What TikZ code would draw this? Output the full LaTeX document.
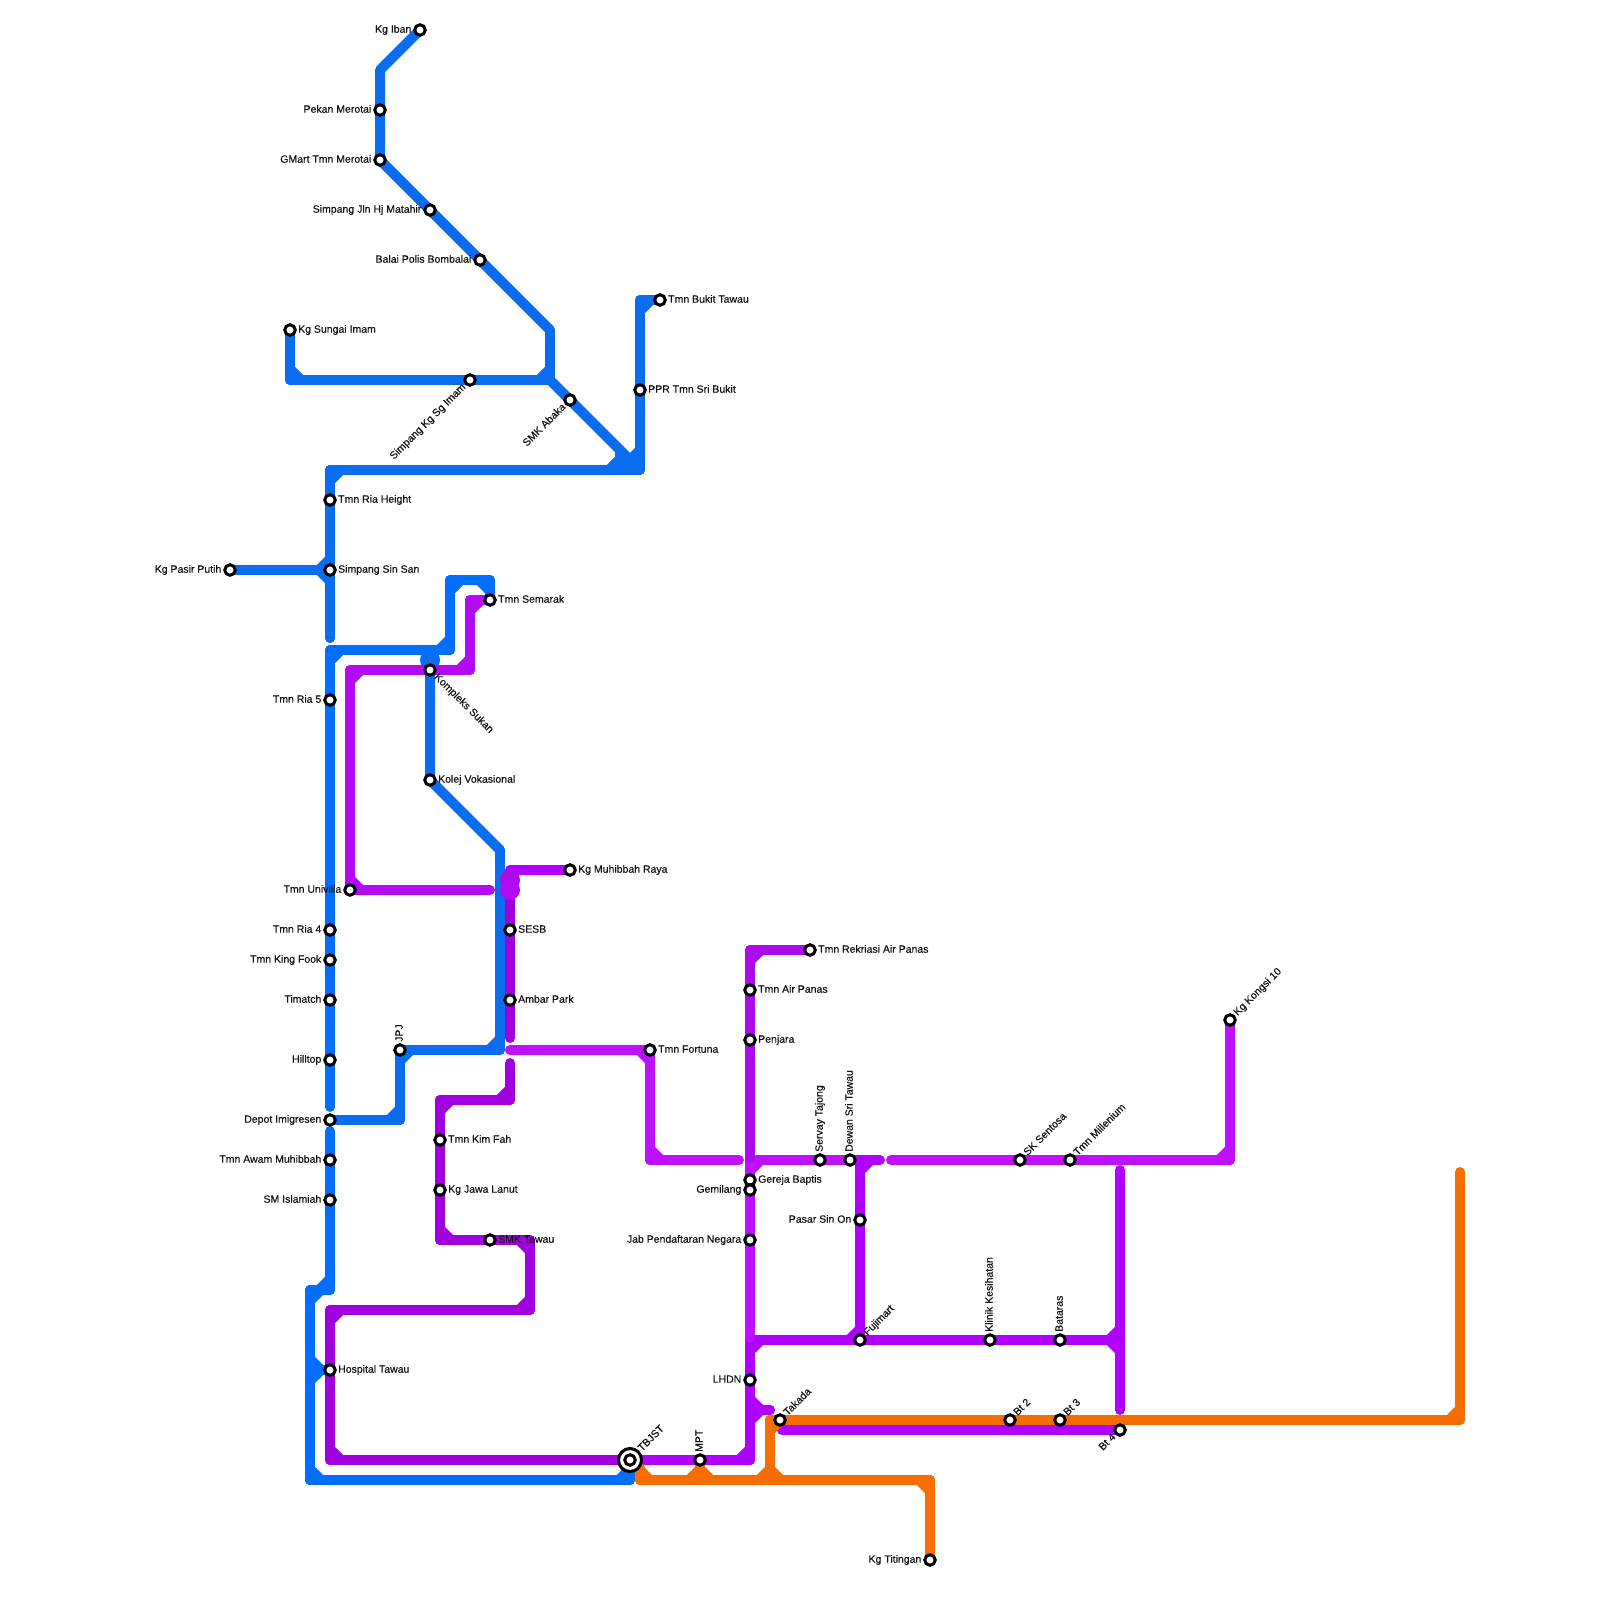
\documentclass[tikz,border=0pt]{standalone}
\usepackage{fontspec}
\setmainfont[FakeBold=0.4]{Liberation Sans}
\usetikzlibrary{calc, backgrounds}
\definecolor{bluebright}{HTML}{006FFF}
\definecolor{bluedeep}{HTML}{0A6CEE}
\definecolor{violetdark}{HTML}{A000DD}
\definecolor{violetmid}{HTML}{AD0AEB}
\definecolor{violetline}{HTML}{B000FF}
\definecolor{violetloop}{HTML}{B20AF5}
\definecolor{violetpale}{HTML}{BE10FF}
\definecolor{roadorange}{HTML}{F76E00}
\definecolor{labelink}{HTML}{111111}
\tikzset{
  route/.style={line width=10pt, line cap=round, line join=round},
  stopring/.style={circle, draw=black, line width=3pt, fill=white, inner sep=0pt, minimum size=10.5pt},
  hubring/.style={circle, draw=black, line width=3pt, fill=white, inner sep=0pt, minimum size=23pt},
  blob/.style={circle, inner sep=0pt, outer sep=0pt, minimum size=20pt},
  lbl/.style={text=labelink, inner sep=0pt, font=\fontsize{10.5}{12}\selectfont},
  toright/.style={lbl, anchor=base west, xshift=8pt, yshift=-2.7pt},
  toleft/.style={lbl, anchor=base east, xshift=-8.5pt, yshift=-2.7pt},
  tonorth/.style={lbl, anchor=base west, rotate=90, xshift=8pt, yshift=-2.7pt},
  tone/.style={lbl, anchor=base west, rotate=45, xshift=8pt, yshift=-2.7pt},
  tose/.style={lbl, anchor=base west, rotate=-45, xshift=8pt, yshift=-2.7pt},
  tosw/.style={lbl, anchor=base east, rotate=45, xshift=-8pt, yshift=-2.7pt},
}
\def\nopt{none}
\newcommand{\stopnode}[5]{%
  \node[stopring] (#1) at (#2,#3) {};
  \node[#4] (#1-name) at (#1.center) {#5};}
\newcommand{\metroline}[2]{%
  \foreach \pt [remember=\prev as \pprev (initially none), remember=\pt as \prev (initially none)] in {#2} {%
    \ifx\prev\nopt\else
      \draw[route, #1] (\prev.center) -- (\pt.center);
      \ifx\pprev\nopt\else
        \draw[route, #1, line cap=butt] ($(\prev)!11pt!(\pprev)$) -- ($(\prev)!11pt!(\pt)$);
      \fi
    \fi}}

\begin{document}
\begin{tikzpicture}[x=1pt, y=-1pt]
  \useasboundingbox (0,0) rectangle (1600,1600);

  \stopnode{kgiban}{420}{30}{toleft}{Kg Iban}
  \stopnode{pekan}{380}{110}{toleft}{Pekan Merotai}
  \stopnode{gmart}{380}{160}{toleft}{GMart Tmn Merotai}
  \stopnode{matahir}{430}{210}{toleft}{Simpang Jln Hj Matahir}
  \stopnode{balai}{480}{260}{toleft}{Balai Polis Bombalai}
  \stopnode{sungai}{290}{330}{toright}{Kg Sungai Imam}
  \stopnode{sgimam}{470}{380}{tosw}{Simpang Kg Sg Imam}
  \stopnode{abaka}{570}{400}{tosw}{SMK Abaka}
  \stopnode{bukit}{660}{300}{toright}{Tmn Bukit Tawau}
  \stopnode{ppr}{640}{390}{toright}{PPR Tmn Sri Bukit}
  \stopnode{height}{330}{500}{toright}{Tmn Ria Height}
  \stopnode{pasir}{230}{570}{toleft}{Kg Pasir Putih}
  \stopnode{sinsan}{330}{570}{toright}{Simpang Sin San}
  \stopnode{semarak}{490}{600}{toright}{Tmn Semarak}
  \stopnode{kompleks}{430}{670}{tose}{Kompleks Sukan}
  \stopnode{riafive}{330}{700}{toleft}{Tmn Ria 5}
  \stopnode{kolej}{430}{780}{toright}{Kolej Vokasional}
  \stopnode{muhibbah}{570}{870}{toright}{Kg Muhibbah Raya}
  \stopnode{univilla}{350}{890}{toleft}{Tmn Univilla}
  \stopnode{riafour}{330}{930}{toleft}{Tmn Ria 4}
  \stopnode{sesb}{510}{930}{toright}{SESB}
  \stopnode{kingfook}{330}{960}{toleft}{Tmn King Fook}
  \stopnode{timatch}{330}{1000}{toleft}{Timatch}
  \stopnode{ambar}{510}{1000}{toright}{Ambar Park}
  \stopnode{hilltop}{330}{1060}{toleft}{Hilltop}
  \stopnode{jpj}{400}{1050}{tonorth}{JPJ}
  \stopnode{fortuna}{650}{1050}{toright}{Tmn Fortuna}
  \stopnode{rekriasi}{810}{950}{toright}{Tmn Rekriasi Air Panas}
  \stopnode{airpanas}{750}{990}{toright}{Tmn Air Panas}
  \stopnode{penjara}{750}{1040}{toright}{Penjara}
  \stopnode{kongsi}{1230}{1020}{tone}{Kg Kongsi 10}
  \stopnode{depot}{330}{1120}{toleft}{Depot Imigresen}
  \stopnode{awam}{330}{1160}{toleft}{Tmn Awam Muhibbah}
  \stopnode{islamiah}{330}{1200}{toleft}{SM Islamiah}
  \stopnode{kimfah}{440}{1140}{toright}{Tmn Kim Fah}
  \stopnode{jawa}{440}{1190}{toright}{Kg Jawa Lanut}
  \stopnode{smktawau}{490}{1240}{toright}{SMK Tawau}
  \stopnode{servay}{820}{1160}{tonorth}{Servay Tajong}
  \stopnode{dewan}{850}{1160}{tonorth}{Dewan Sri Tawau}
  \stopnode{sentosa}{1020}{1160}{tone}{SK Sentosa}
  \stopnode{millenium}{1070}{1160}{tone}{Tmn Millenium}
  \stopnode{gereja}{750}{1180}{toright}{Gereja Baptis}
  \stopnode{gemilang}{750}{1190}{toleft}{Gemilang}
  \stopnode{pasarsin}{860}{1220}{toleft}{Pasar Sin On}
  \stopnode{jab}{750}{1240}{toleft}{Jab Pendaftaran Negara}
  \stopnode{fujimart}{860}{1340}{tone}{Fujimart}
  \stopnode{klinik}{990}{1340}{tonorth}{Klinik Kesihatan}
  \stopnode{bataras}{1060}{1340}{tonorth}{Bataras}
  \stopnode{hospital}{330}{1370}{toright}{Hospital Tawau}
  \stopnode{lhdn}{750}{1380}{toleft}{LHDN}
  \stopnode{takada}{780}{1420}{tone}{Takada}
  \stopnode{bttwo}{1010}{1420}{tone}{Bt 2}
  \stopnode{btthree}{1060}{1420}{tone}{Bt 3}
  \stopnode{btfour}{1120}{1430}{tosw}{Bt 4}
  \stopnode{mpt}{700}{1460}{tonorth}{MPT}
  \stopnode{titingan}{930}{1560}{toleft}{Kg Titingan}
  \node[hubring] (tbjstring) at (630,1460) {};
  \node[stopring] (tbjst) at (630,1460) {};
  \node[lbl, anchor=base west, rotate=45, xshift=14pt, yshift=-2.7pt] (tbjst-name) at (tbjst.center) {TBJST};

  \foreach \n/\x/\y in {
      b1/290/380, b2/550/380, b3/550/330, b4/380/70, b5/630/460, b6/620/450, b7/620/470,
      b8/330/470, b9/330/638, b10/640/300, b11/640/470, b12/640/450, b13/400/1120,
      b14/500/1050, b15/500/850, b16/430/675,
      a1/490/580, a2/450/580, a3/450/650, a4/330/650, a5/330/1107, a6/330/1131,
      a7/330/1290, a8/310/1290, a9/310/1480, a10/630/1480, a11/310/1370,
      d1/330/1460, d2/330/1310, d3/530/1310, d4/530/1240, d5/440/1240, d6/440/1100,
      d7/510/1100, d8/510/1063,
      p1/510/870, p2/510/880, p3/510/890, p4/490/890, p5/350/670, p6/470/670, p7/470/600,
      p8/510/1050, p9/650/1160, p10/739/1160, p11/510/1038,
      r1/750/950, r2/750/1158,
      e1/750/1338, e2/750/1160, e3/880/1160, e4/860/1160, e5/750/1340, e6/750/1460,
      e7/1120/1340, e8/1120/1170, e9/1120/1410, e10/770/1410, e11/750/1410, e12/782/1430,
      f1/1230/1160, f2/891/1160,
      o1/640/1468, o2/640/1480, o3/930/1480, o4/650/1480, o6/700/1480, o7/770/1420,
      o8/770/1480, o9/1460/1420, o10/1460/1172} {
    \coordinate (\n) at (\x,\y);
  }
  \coordinate (kblob) at (430,660);

  \begin{scope}[on background layer]
    \metroline{bluedeep}{sungai,b1,b2,b3}
    \draw[route, bluedeep] (b3) -- (gmart.center) -- (b4) -- (kgiban.center);
    \draw[route, bluedeep] (b2) -- (b5);
    \metroline{bluedeep}{b6,b7,b8,b9}
    \metroline{bluedeep}{bukit,b10,b11,b7}
    \draw[route, bluedeep, line cap=butt] (b12) -- (b7);
    \metroline{bluedeep}{pasir,sinsan,b8}
    \metroline{bluedeep}{pasir,sinsan,b9}
    \metroline{bluedeep}{depot,b13,jpj,b14,b15}
    \draw[route, bluedeep] (b15) -- (kolej.center) -- (b16);
    \node[blob, fill=bluedeep] (kompblob) at (kblob) {};
    \metroline{bluebright}{semarak,a1,a2,a3,a4,a5}
    \metroline{bluebright}{a6,a7,a8,a9,a10,tbjst}
    \metroline{bluebright}{hospital,a11,a8}
    \metroline{bluebright}{hospital,a11,a9}

    \metroline{violetdark}{tbjst,d1,d2,d3,d4,d5,d6,d7,d8}
    \draw[route, violetdark] (p3) -- (p11);
    \draw[route, violetline] (muhibbah.center) -- (p1) -- (p2);
    \node[blob, fill=violetmid] (upperblob) at (p2) {};
    \node[blob, fill=violetloop] (lowerblob) at (p3) {};
    \metroline{violetloop}{p4,univilla,p5,p6,p7,semarak}
    \metroline{violetpale}{p8,fortuna,p9,p10}
    \draw[route, violetline] (dewan.center) -- (e4);
    \metroline{violetline}{e3,e4,fujimart,e5,e6,tbjst}
    \metroline{violetline}{fujimart,e7,e8}
    \metroline{violetline}{fujimart,e7,e9}
    \metroline{violetline}{e10,e11,e5}
    \metroline{violetline}{e10,e11,e6}
    \draw[route, violetline] (btfour.center) -- (e12);
    \metroline{violetpale}{e1,e2,dewan}
    \metroline{violetmid}{rekriasi,r1,r2}
    \metroline{violetpale}{kongsi,f1,f2}

    \draw[route, roadorange, line cap=butt] (tbjst.center) -- (o4);
    \draw[route, roadorange] (o1) -- (o2);
    \metroline{roadorange}{o2,o3,titingan}
    \metroline{roadorange}{mpt,o6,o2}
    \metroline{roadorange}{mpt,o6,o3}
    \metroline{roadorange}{o7,o8,o2}
    \metroline{roadorange}{o7,o8,o3}
    \metroline{roadorange}{o8,o7,o9,o10}
  \end{scope}
\end{tikzpicture}
\end{document}
